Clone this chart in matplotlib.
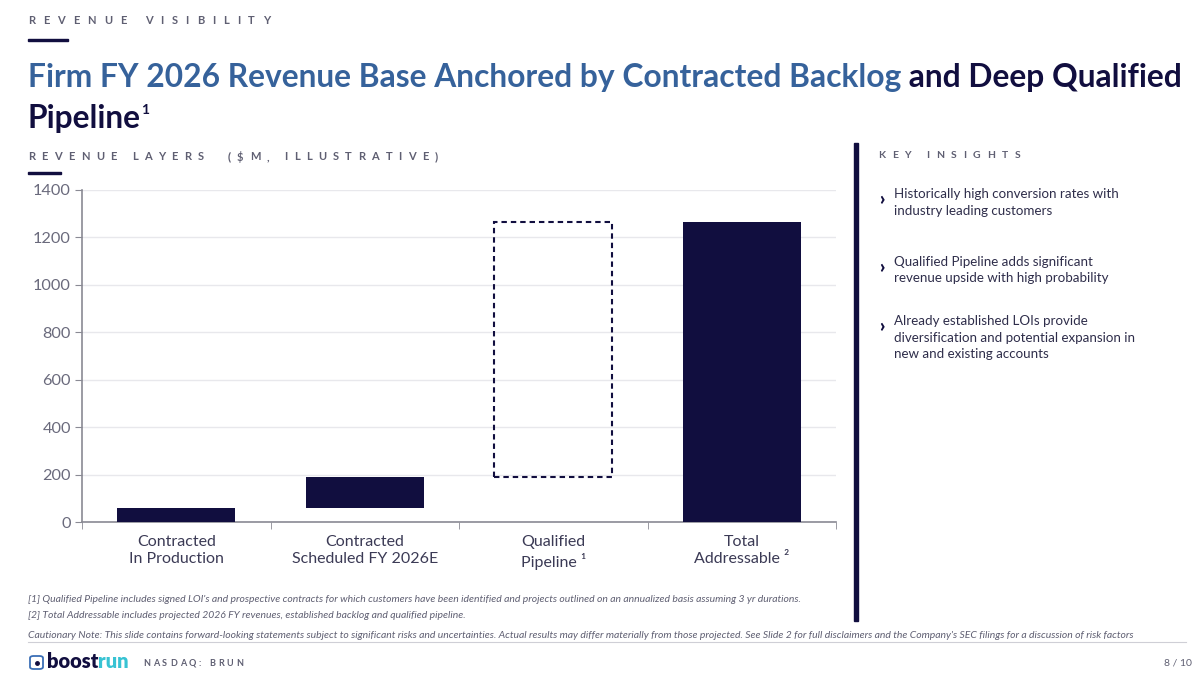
import matplotlib
matplotlib.use("Agg")
import matplotlib.pyplot as plt
from matplotlib.font_manager import FontProperties
from matplotlib.patches import Rectangle, FancyBboxPatch
import numpy as np

# data
categories = ["Contracted\nIn Production", "Contracted\nScheduled FY 2026E",
              "Qualified\nPipeline \u00b9", "Total\nAddressable \u00b2"]
layer_values = [60, 130, 1075]          # $M, stacked layers
total_value = 1265
y_ticks = [0, 200, 400, 600, 800, 1000, 1200, 1400]

insights = [
    "Historically high conversion rates with\nindustry leading customers",
    "Qualified Pipeline adds significant\nrevenue upside with high probability",
    "Already established LOIs provide\ndiversification and potential expansion in\nnew and existing accounts",
]
footnotes = [
    "[1] Qualified Pipeline includes signed LOI's and prospective contracts for which customers have been identified and projects outlined on an annualized basis assuming 3 yr durations.",
    "[2] Total Addressable includes projected 2026 FY revenues, established backlog and qualified pipeline.",
]
caution = ("Cautionary Note: This slide contains forward-looking statements subject to significant risks and uncertainties. "
           "Actual results may differ materially from those projected. See Slide 2 for full disclaimers and the Company's SEC filings for a discussion of risk factors")

NAVY = "#110e3f"
BLUE = "#36629b"
GRAY = "#5f5f72"
LIGHT = "#e8e8ec"
TEAL = "#38c3d3"

plt.rcParams['font.family'] = ['Lato', 'DejaVu Sans']

W, H = 1199, 674
fig = plt.figure(figsize=(W / 100, H / 100), dpi=100)
fig.patch.set_facecolor("white")
renderer = fig.canvas.get_renderer()


def fx(x):
    return x / W


def fy(y):
    return 1 - y / H


def text_w(s, fp):
    t = fig.text(0, 0, s, fontproperties=fp)
    w = t.get_window_extent(renderer).width
    t.remove()
    return w


def tracked(x0, x1, y, s, size, color, weight="bold"):
    # letter-spaced caps, stretched to fill x0..x1
    fp = FontProperties(family=["Lato", "DejaVu Sans"], size=size, weight=weight)
    sp = size * 0.28
    widths = [sp if ch == " " else text_w(ch, fp) for ch in s]
    track = (x1 - x0 - sum(widths)) / (len(s) - 1)
    x = x0
    for ch, w in zip(s, widths):
        if ch != " ":
            fig.text(fx(x), fy(y), ch, fontproperties=fp, color=color, va="center")
        x += w + track


# header
tracked(28, 270, 21, "REVENUE VISIBILITY", 8, GRAY)
fig.add_artist(Rectangle((fx(28), fy(41)), fx(40), 2.2 / H, color=NAVY, transform=fig.transFigure))

fp_title = FontProperties(family=["Lato", "DejaVu Sans"], size=22, weight="bold")
part1 = "Firm FY 2026 Revenue Base Anchored by Contracted Backlog"
part2 = " and Deep Qualified"
full_w = text_w(part1 + part2, fp_title)
fp_title.set_size(22 * 1153 / full_w)
t1 = fig.text(fx(28), fy(87), part1, fontproperties=fp_title, color=BLUE, va="baseline")
w1 = t1.get_window_extent(renderer).width
fig.text(fx(28) + w1 / W, fy(87), part2, fontproperties=fp_title, color=NAVY, va="baseline")
t3 = fig.text(fx(28), fy(128), "Pipeline", fontproperties=fp_title, color=NAVY, va="baseline")
w3 = t3.get_window_extent(renderer).width
fig.text(fx(28) + (w3 + 0.5) / W, fy(114), "1", fontsize=10, weight="bold", color=NAVY, va="baseline")

tracked(28, 438, 157, "REVENUE LAYERS  ($M, ILLUSTRATIVE)", 8, GRAY)
fig.add_artist(Rectangle((fx(28), fy(174)), fx(33), 2.2 / H, color=NAVY, transform=fig.transFigure))

# chart
ax = fig.add_axes([fx(82), fy(522.3), fx(754), 332.8 / H])
x = np.arange(len(categories))
bottoms = np.concatenate([[0], np.cumsum(layer_values)[:-1]])
bar_w = 0.625
ax.bar(x[:2], layer_values[:2], bottom=bottoms[:2], width=bar_w, color=NAVY, zorder=3)
ax.bar(x[3], total_value, width=bar_w, color=NAVY, zorder=3)
ax.bar(x[2], layer_values[2], bottom=bottoms[2], width=bar_w, facecolor="none",
       edgecolor=NAVY, linestyle=(0, (2.6, 1.9)), linewidth=1.5, zorder=3)

ax.set_xlim(-0.5, len(categories) - 0.5)
ax.set_ylim(0, 1400)
ax.set_yticks(y_ticks)
ax.set_yticklabels([str(v) for v in y_ticks])
ax.set_xticks(x)
ax.set_xticklabels(categories, fontsize=11.5, color="#3b3a55", linespacing=1.32)
ax.set_xticks(np.arange(-0.5, len(categories)), minor=True)
ax.tick_params(axis="x", which="major", length=0, pad=9)
ax.tick_params(axis="x", which="minor", length=5, color="#8a8a94", direction="out")
ax.tick_params(axis="y", length=5, color="#8a8a94", labelsize=11.7, labelcolor="#6a6a7c", pad=3)
ax.grid(axis="y", color=LIGHT, linewidth=1, zorder=0)
for s in ["top", "right"]:
    ax.spines[s].set_visible(False)
for s in ["left", "bottom"]:
    ax.spines[s].set_color("#8a8a94")
    ax.spines[s].set_linewidth(1.2)

# right panel
fig.add_artist(Rectangle((fx(854), fy(621)), 4 / W, 478 / H, color=NAVY, transform=fig.transFigure))
tracked(878, 1020, 156, "KEY INSIGHTS", 7.5, GRAY)
ins_y = [194, 262, 321]
for yy, txt in zip(ins_y, insights):
    fig.text(fx(879), fy(yy + 6), "\u203a", fontsize=13, weight="heavy", color=NAVY, va="center")
    fig.text(fx(894), fy(yy - 6), txt, fontsize=9.6, color="#2e2d4a", va="top", linespacing=1.45)

# footnotes
fig.text(fx(28), fy(599), footnotes[0], fontsize=7.5, style="italic", color=GRAY, va="center")
fig.text(fx(28), fy(615), footnotes[1], fontsize=7.5, style="italic", color=GRAY, va="center")
fig.text(fx(28), fy(635), caution, fontsize=7.5, style="italic", color=GRAY, va="center")
fig.add_artist(plt.Line2D([fx(28), fx(1186)], [fy(642), fy(642)], color="#cfcfd6", linewidth=0.8))

# footer logo
fig.add_artist(FancyBboxPatch((fx(30), fy(669)), 13 / W, 13 / H, boxstyle="round,pad=0,rounding_size=0.003",
                              facecolor="white", edgecolor="#3b6fb6", linewidth=1.3, transform=fig.transFigure))
fig.add_artist(plt.Line2D([fx(36.5)], [fy(662.5)], marker="o", markersize=2.5, color=NAVY))
tb = fig.text(fx(47), fy(662), "boost", fontsize=14.5, weight="heavy", color=NAVY, va="center")
wb = tb.get_window_extent(renderer).width
fig.text(fx(47) + wb / W, fy(662), "run", fontsize=14.5, weight="heavy", color=TEAL, va="center")
tracked(143, 243, 663, "NASDAQ: BRUN", 6.5, GRAY)
fig.text(fx(1192), fy(663), "8 / 10", fontsize=7.5, color=GRAY, va="center", ha="right")

fig.savefig("out.png", dpi=100)
